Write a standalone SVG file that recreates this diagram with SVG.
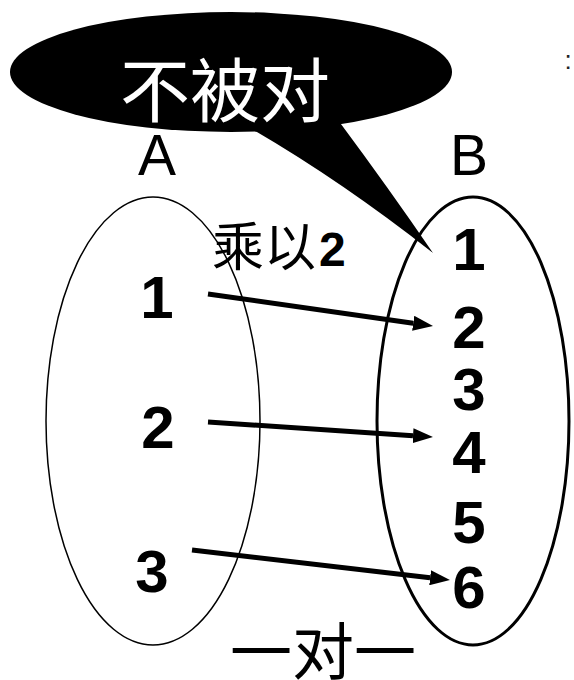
<svg xmlns="http://www.w3.org/2000/svg" width="574" height="680" viewBox="0 0 574 680">
<style>
.num{font-family:"Liberation Sans",Arial,sans-serif;font-weight:bold;font-size:60px;fill:#000;text-anchor:middle}
.lat{font-family:"Liberation Sans",Arial,sans-serif;font-size:57px;fill:#000}
.cjk{font-family:"Liberation Serif","Noto Sans CJK SC",serif}
.arr{stroke:#000;stroke-width:5;fill:none;marker-end:url(#ah)}
</style>
<defs>
<marker id="ah" markerWidth="4" markerHeight="3" refX="0" refY="1.5" orient="auto" markerUnits="strokeWidth">
<path d="M0,0 L4,1.5 L0,3 z" fill="#000"/>
</marker>
</defs>
<rect width="574" height="680" fill="#fff"/>
<g id="setA">
<ellipse cx="153" cy="421" rx="107" ry="224" fill="none" stroke="#000" stroke-width="1.5"/>
<text class="lat" x="157" y="175" text-anchor="middle">A</text>
<text class="num" x="157" y="318">1</text>
<text class="num" x="158" y="448">2</text>
<text class="num" x="152" y="592">3</text>
</g>
<g id="setB">
<ellipse cx="473" cy="421" rx="96" ry="224" fill="none" stroke="#000" stroke-width="3"/>
<text class="lat" x="469" y="175" text-anchor="middle">B</text>
<text class="num" x="469" y="270">1</text>
<text class="num" x="469" y="348">2</text>
<text class="num" x="469" y="410">3</text>
<text class="num" x="469" y="473">4</text>
<text class="num" x="469" y="543">5</text>
<text class="num" x="469" y="608">6</text>
</g>
<g id="connectors">
<line class="arr" x1="208" y1="294" x2="413.2" y2="323.2"/>
<line class="arr" x1="208" y1="422" x2="413" y2="435.7"/>
<line class="arr" x1="192" y1="550" x2="430.1" y2="577.7"/>
</g>
<g id="rule-label">
<text x="212" y="266" class="cjk" font-size="52" fill="#000">乘以<tspan dx="3" font-family="Liberation Sans,Arial,sans-serif" font-weight="bold" font-size="48">2</tspan></text>
</g>
<g id="callout">
<ellipse cx="231" cy="72" rx="221" ry="60" fill="#000"/>
<path d="M250,128 Q340,180 433,253 Q390,190 338,120 Z" fill="#000"/>
<text x="120" y="117" class="cjk" font-size="70" fill="#fff">不被对</text>
</g>
<g id="bottom-label">
<text x="230" y="675" class="cjk" font-size="62" fill="#000">一对一</text>
</g>
<text x="568" y="69" font-family="Liberation Sans,Arial,sans-serif" font-size="26" fill="#222" text-anchor="middle">:</text>
</svg>
